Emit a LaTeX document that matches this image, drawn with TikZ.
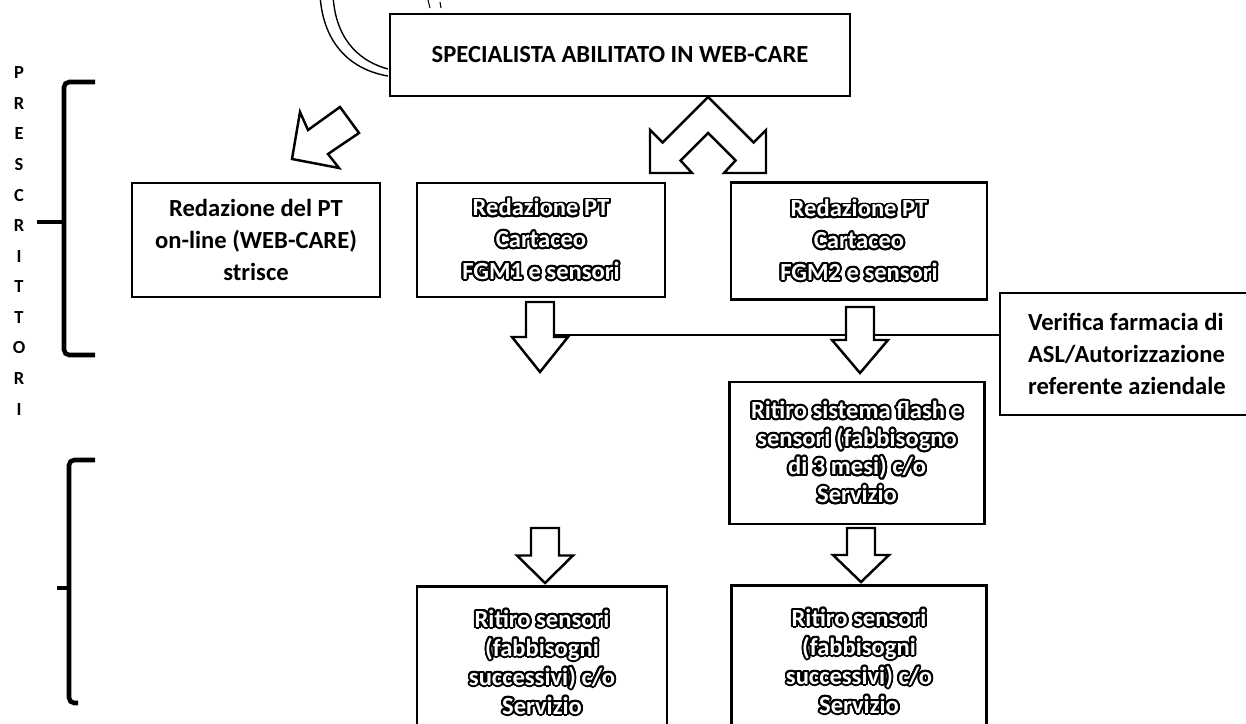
\documentclass[tikz,border=0pt]{standalone}
\usepackage{fontspec}
\setmainfont{Carlito}
\usepackage{contour}
\contourlength{1.1pt}
\contournumber{24}
\usetikzlibrary{positioning}

% white letters with a black outline, as in the scanned boxes
\newcommand{\hollowtxt}[1]{{\color{white}\contour{black}{#1}}}

\begin{document}
\begin{tikzpicture}[
    x=0.02cm, y=-0.02cm,
    box/.style={draw=black, line width=1.6pt, fill=white, align=center,
        font=\bfseries\fontsize{14}{18}\selectfont, inner sep=0pt},
    hollow/.style={draw=black, line width=1.4pt, fill=white, line join=miter},
    brace/.style={line width=2.6pt, rounded corners=3pt},
    pics/downarr/.style={code={
        \draw[hollow] (-14,0) -- (14,0) -- (14,#1/2) -- (28,#1/2) -- (0,#1)
            -- (-28,#1/2) -- (-14,#1/2) -- cycle;}}]
    \useasboundingbox (0,0) rectangle (1246,723);
    \clip (0,0) rectangle (1246,723);

    % ARC
    \draw[line width=0.8pt] (388,76) .. controls (352,70) and (323,45) .. (320,-5);
    \draw[line width=0.8pt] (388,69) .. controls (355,60) and (335,35) .. (333,-5);
    \draw[line width=0.6pt] (428,0) -- (430,8);
    \draw[line width=0.6pt] (440,2) -- (441,8);

    % NODES
    % top box
    \node[box, minimum width=9.2cm, minimum height=1.64cm] (spec) at (620,55)
        {SPECIALISTA ABILITATO IN WEB-CARE};
    % row of the three PT boxes
    \node[box, minimum width=4.96cm, minimum height=2.28cm] (online) at (256,240)
        {Redazione del PT\\on-line (WEB-CARE)\\strisce};
    \node[box, minimum width=4.96cm, minimum height=2.28cm] (fgm1) at (541,240)
        {\hollowtxt{Redazione PT}\\\hollowtxt{Cartaceo}\\\hollowtxt{FGM1 e sensori}};
    \node[box, minimum width=5.12cm, minimum height=2.34cm] (fgm2) at (859,241)
        {\hollowtxt{Redazione PT}\\\hollowtxt{Cartaceo}\\\hollowtxt{FGM2 e sensori}};
    % check box on the right
    \node[box, align=flush left, text width=4.28cm, inner xsep=0.56cm,
        minimum height=2.44cm] (ver) at (1135,354)
        {Verifica farmacia di\\ASL/Autorizzazione\\referente aziendale};
    % pick-up boxes
    \node[box, minimum width=5.1cm, minimum height=2.84cm,
        font=\bfseries\fontsize{14}{16}\selectfont] (flash) at (857,453)
        {\hollowtxt{Ritiro sistema flash e}\\\hollowtxt{sensori (fabbisogno}\\\hollowtxt{di 3 mesi) c/o}\\\hollowtxt{Servizio}};
    \node[box, minimum width=5.0cm, minimum height=3.06cm,
        font=\bfseries\fontsize{14}{16.5}\selectfont] (sens1) at (542,663)
        {\hollowtxt{Ritiro sensori}\\\hollowtxt{(fabbisogni}\\\hollowtxt{successivi) c/o}\\\hollowtxt{Servizio}};
    \node[box, minimum width=5.1cm, minimum height=3.06cm,
        font=\bfseries\fontsize{14}{16.5}\selectfont] (sens2) at (859,662)
        {\hollowtxt{Ritiro sensori}\\\hollowtxt{(fabbisogni}\\\hollowtxt{successivi) c/o}\\\hollowtxt{Servizio}};
    % side label
    \node[font=\bfseries\fontsize{10.5}{17.4}\selectfont, align=center, inner sep=0pt]
        (presc) at (19,241) {P\\R\\E\\S\\C\\R\\I\\T\\T\\O\\R\\I};

    % BRACKETS
    \draw[brace] (95,82) -- (64,82) -- (64,355) -- (95,355);
    \draw[brace] (37,222) -- (64,222);
    \draw[brace] (95,460) -- (69,460) -- (69,703) -- (78,703);
    \draw[brace] (57,588) -- (69,588);

    % LINE to the check box
    \coordinate (a1r) at (554,335);
    \draw[line width=0.9pt] (a1r) -- (a1r -| ver.west);

    % ARROWS
    \draw[hollow] (300,112) -- (308,130) -- (340,107) -- (359,133) -- (328,154)
        -- (339,168) -- (292,159) -- cycle;
    \draw[hollow] (708,97) -- (662.5,142.5) -- (650,130) -- (650,173) -- (692,173)
        -- (680.5,160.5) -- (708,133) -- (735.5,160.5) -- (724,173) -- (766,173)
        -- (766,130) -- (753.5,142.5) -- cycle;
    \pic at (540,302) {downarr=70};
    \pic at (860,307) {downarr=66};
    \pic at (545,528) {downarr=55};
    \pic at (861,528) {downarr=54};
\end{tikzpicture}
\end{document}
